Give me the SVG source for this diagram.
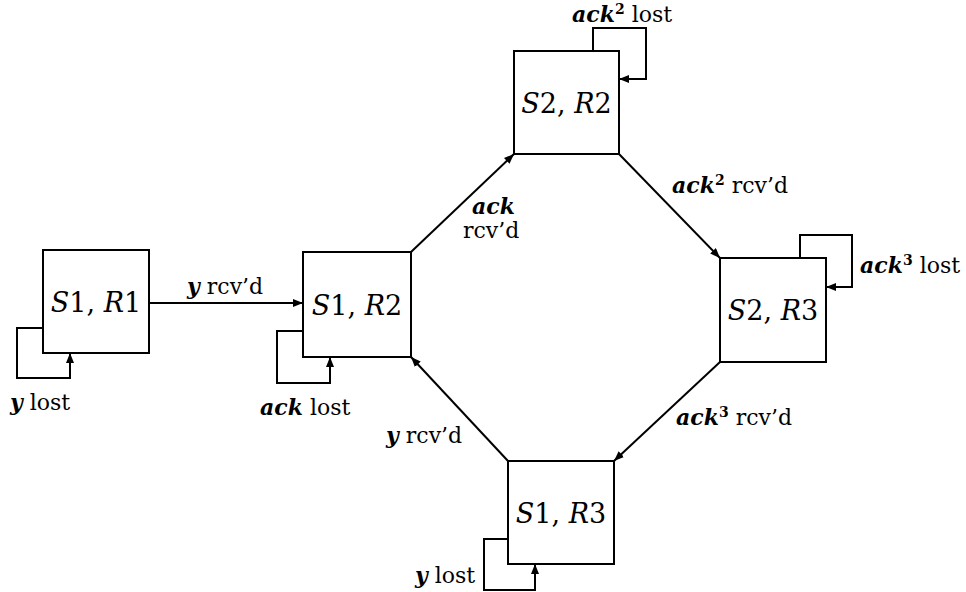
<svg xmlns="http://www.w3.org/2000/svg" width="966" height="592" viewBox="0 0 966 592">
<style>
.box{fill:#fff;stroke:#000;stroke-width:2}
.ln{fill:none;stroke:#000;stroke-width:2}
.nl{font-family:"DejaVu Serif","Liberation Serif",serif;font-size:27px;fill:#000}
.it{font-style:italic}
.lb{font-family:"DejaVu Serif","Liberation Serif",serif;font-size:22px;fill:#000}
.bi{font-weight:bold;font-style:italic}
.sup{font-size:14px;font-weight:bold}
</style>
<defs>
<marker id="ah" viewBox="0 0 10 8" markerWidth="10" markerHeight="8" refX="10" refY="4" orient="auto" markerUnits="userSpaceOnUse">
<path d="M0,0 L10,4 L0,8 z" fill="#000"/>
</marker>
</defs>
<g id="connectors">
<path class="ln" d="M149,303 L303,303" marker-end="url(#ah)"/>
<path class="ln" d="M411,252 L514,154" marker-end="url(#ah)"/>
<path class="ln" d="M619,154 L720,258" marker-end="url(#ah)"/>
<path class="ln" d="M720,362 L614,461" marker-end="url(#ah)"/>
<path class="ln" d="M508,461 L411,357" marker-end="url(#ah)"/>
<path class="ln" d="M43,328 H17 V378 H70 V353" marker-end="url(#ah)"/>
<path class="ln" d="M303,331 H277 V383 H330 V357" marker-end="url(#ah)"/>
<path class="ln" d="M593,51 V28 H646 V79 H619" marker-end="url(#ah)"/>
<path class="ln" d="M800,258 V235 H852 V287 H826" marker-end="url(#ah)"/>
<path class="ln" d="M508,539 H484 V590 H535 V564" marker-end="url(#ah)"/>
</g>
<g id="labels">
<text class="lb" x="187" y="294"><tspan class="bi">y</tspan> rcv’d</text>
<text class="lb" x="472" y="214"><tspan class="bi">ack</tspan></text>
<text class="lb" x="463" y="238">rcv’d</text>
<text class="lb" x="672" y="193"><tspan class="bi">ack</tspan><tspan class="sup" dy="-8">2</tspan><tspan dy="8"> rcv’d</tspan></text>
<text class="lb" x="572" y="22"><tspan class="bi">ack</tspan><tspan class="sup" dy="-8">2</tspan><tspan dy="8"> lost</tspan></text>
<text class="lb" x="860" y="273"><tspan class="bi">ack</tspan><tspan class="sup" dy="-8">3</tspan><tspan dy="8"> lost</tspan></text>
<text class="lb" x="676" y="425"><tspan class="bi">ack</tspan><tspan class="sup" dy="-8">3</tspan><tspan dy="8"> rcv’d</tspan></text>
<text class="lb" x="386" y="443"><tspan class="bi">y</tspan> rcv’d</text>
<text class="lb" x="10" y="410"><tspan class="bi">y</tspan> lost</text>
<text class="lb" x="260" y="415"><tspan class="bi">ack</tspan> lost</text>
<text class="lb" x="415" y="583"><tspan class="bi">y</tspan> lost</text>
</g>
<g id="S1R1">
<rect class="box" x="43" y="250" width="106" height="103"/>
<text class="nl" x="96" y="312" text-anchor="middle"><tspan class="it">S</tspan>1, <tspan class="it">R</tspan>1</text>
</g>
<g id="S1R2">
<rect class="box" x="303" y="252" width="108" height="105"/>
<text class="nl" x="357" y="315" text-anchor="middle"><tspan class="it">S</tspan>1, <tspan class="it">R</tspan>2</text>
</g>
<g id="S2R2">
<rect class="box" x="514" y="51" width="105" height="103"/>
<text class="nl" x="566.5" y="113" text-anchor="middle"><tspan class="it">S</tspan>2, <tspan class="it">R</tspan>2</text>
</g>
<g id="S2R3">
<rect class="box" x="720" y="258" width="106" height="104"/>
<text class="nl" x="773" y="320" text-anchor="middle"><tspan class="it">S</tspan>2, <tspan class="it">R</tspan>3</text>
</g>
<g id="S1R3">
<rect class="box" x="508" y="461" width="106" height="103"/>
<text class="nl" x="561" y="523" text-anchor="middle"><tspan class="it">S</tspan>1, <tspan class="it">R</tspan>3</text>
</g>
</svg>
